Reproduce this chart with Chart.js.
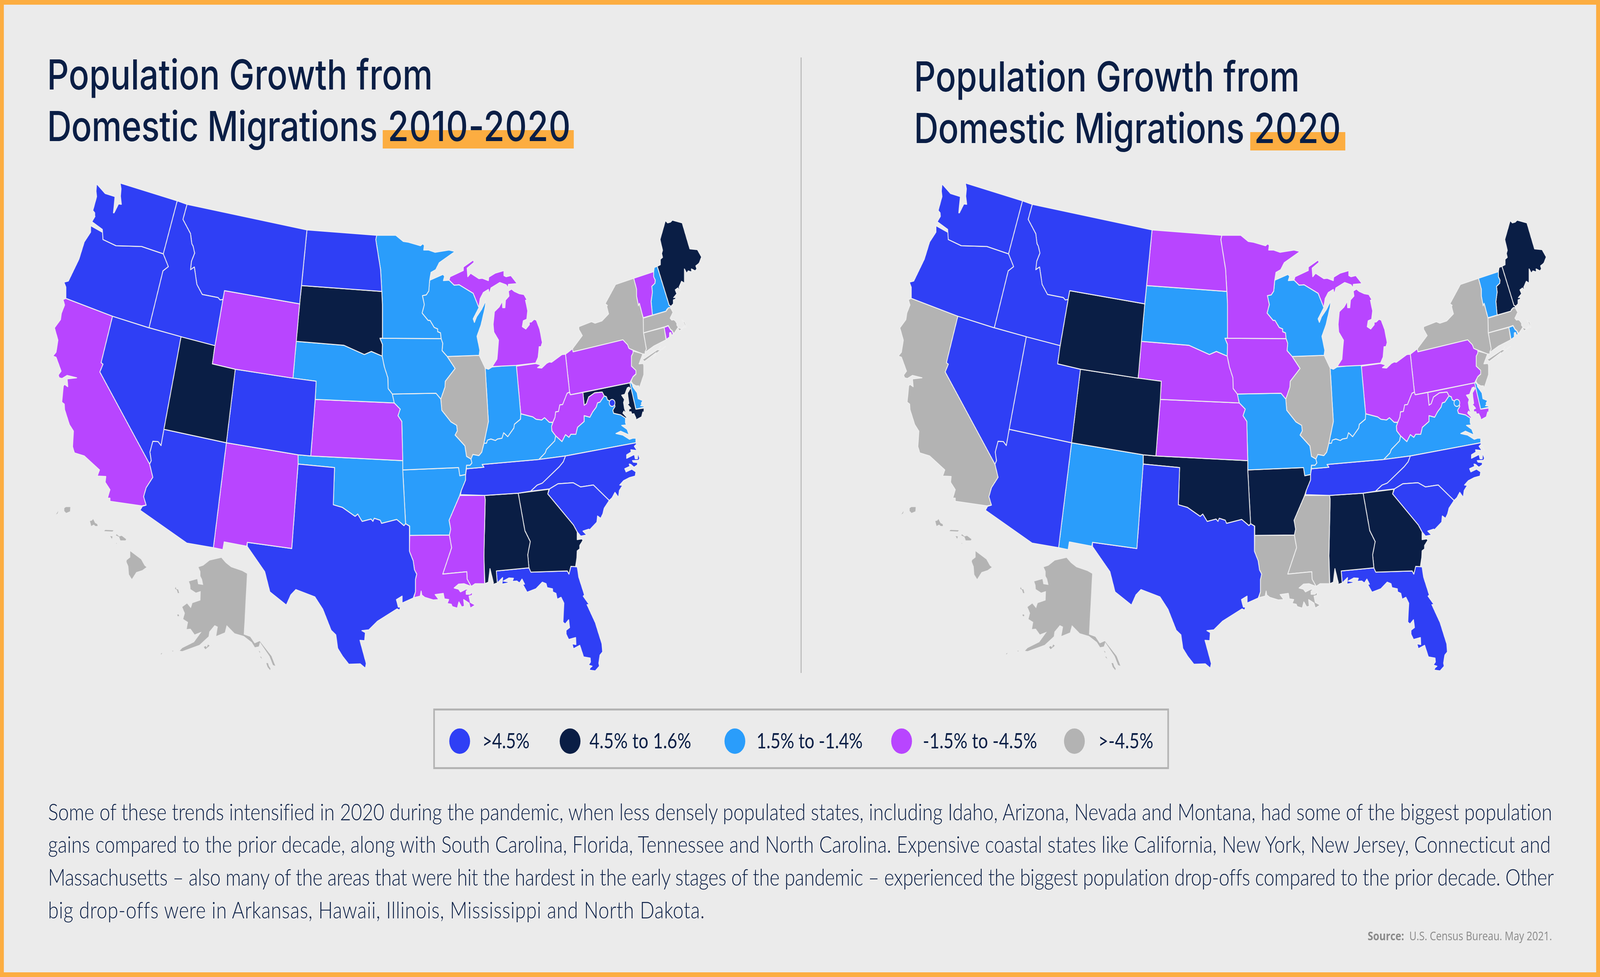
<!DOCTYPE html>
<html>
<head>
<meta charset="utf-8">
<title>Population Growth from Domestic Migrations</title>
<script src="https://cdn.jsdelivr.net/npm/chart.js@4"></script>
<style>
html,body{margin:0;padding:0;background:#ebebeb;overflow:hidden;}
#page{position:absolute;left:0;top:0;width:5000px;height:2500px;box-sizing:border-box;border:12px solid #fcad41;background:#ebebeb;overflow:hidden;transform-origin:0 0;}
#stage{position:absolute;left:-12px;top:-12px;width:5000px;height:2500px;}
canvas{position:absolute;top:0;}
.t{position:absolute;white-space:nowrap;line-height:1;color:#0a1e45;}
.hl{position:absolute;background:#fcad41;}
#divider{position:absolute;left:2502px;top:147px;width:3px;height:1575px;background:#b5b5b5;}
#legbox{position:absolute;left:1354px;top:1813px;width:2299px;height:155px;box-sizing:border-box;border:5px solid #b3b3b3;}
.dot{position:absolute;width:65px;height:65px;border-radius:50%;}
</style>
</head>
<body>
<div id="page"><div id="stage">
<div id="divider"></div>
<div id="legbox"></div>
<canvas id="map2010" width="2642" height="2500" style="left:0;width:2642px;height:2500px"></canvas>
<canvas id="map2020" width="2358" height="2500" style="left:2642px;width:2358px;height:2500px"></canvas>
</div></div>
<script>
// legend / groups
var groupLabels = [">4.5%", "4.5% to 1.6%", "1.5% to -1.4%", "-1.5% to -4.5%", ">-4.5%"];
var groupColors = ["#2f3ff5", "#0a1e45", "#2a9dfb", "#b845ff", "#b3b3b3"];

// state outlines
var WA = [[367,461],[547,507],[503,644],[435,625],[354,623],[313,607],[311,581],[278,561],[288,547],[287,538],[281,532],[293,496],[291,482],[293,463],[320,488],[351,496],[346,538],[348,538],[362,515],[371,516],[368,495],[370,476]];
var OR = [[274,571],[274,588],[254,613],[237,658],[204,714],[190,717],[196,730],[196,759],[343,805],[458,835],[502,688],[519,677],[503,644],[435,625],[354,623],[313,607],[313,589]];
var CA = [[196,759],[343,805],[307,925],[313,929],[303,949],[460,1187],[470,1221],[449,1248],[441,1271],[449,1293],[435,1295],[335,1283],[335,1275],[327,1275],[335,1253],[320,1234],[322,1219],[295,1218],[302,1202],[254,1166],[223,1158],[217,1142],[220,1102],[207,1085],[192,1046],[191,1032],[183,1027],[188,985],[192,981],[202,987],[200,967],[230,964],[200,958],[184,966],[175,964],[172,957],[181,947],[165,911],[155,908],[165,898],[171,867],[160,835],[179,814],[182,797],[192,776],[187,762]];
var NV = [[343,805],[458,835],[559,858],[505,1097],[496,1139],[487,1129],[470,1128],[461,1156],[465,1178],[460,1187],[303,949],[313,929],[307,925]];
var ID = [[547,507],[578,516],[565,555],[589,592],[593,618],[597,624],[602,642],[592,663],[589,685],[601,678],[609,723],[626,749],[676,757],[682,763],[691,762],[666,881],[559,858],[458,835],[502,688],[519,677],[503,644]];
var MT = [[578,516],[956,582],[933,773],[696,739],[691,762],[682,763],[676,757],[626,749],[609,723],[601,678],[589,685],[592,663],[602,642],[597,624],[593,618],[589,592],[565,555]];
var WY = [[696,739],[933,773],[912,965],[730,942],[658,928],[666,881]];
var UT = [[559,858],[666,881],[658,928],[730,942],[702,1132],[505,1097]];
var CO = [[730,942],[912,965],[985,973],[982,1020],[968,1166],[928,1163],[702,1132]];
var ND = [[956,582],[1176,596],[1173,607],[1188,684],[1192,741],[939,726]];
var SD = [[939,726],[1192,741],[1194,775],[1194,862],[1186,862],[1194,878],[1193,908],[1159,896],[1137,904],[1072,880],[922,870],[933,773]];
var NE = [[922,870],[1072,880],[1137,904],[1159,896],[1193,908],[1200,936],[1211,964],[1212,992],[1225,1006],[1231,1029],[982,1020],[985,973],[912,965]];
var KS = [[982,1020],[1231,1029],[1250,1045],[1243,1062],[1255,1077],[1258,1178],[968,1166]];
var MN = [[1176,596],[1236,596],[1260,612],[1276,614],[1314,623],[1321,618],[1326,622],[1324,634],[1339,634],[1360,640],[1404,634],[1423,638],[1373,667],[1362,685],[1347,692],[1343,712],[1340,740],[1332,750],[1320,752],[1326,775],[1319,797],[1338,816],[1344,816],[1357,834],[1368,838],[1368,845],[1377,848],[1379,863],[1186,862],[1194,862],[1194,775],[1192,741],[1188,684],[1173,607]];
var IA = [[1186,862],[1379,863],[1384,875],[1382,894],[1398,909],[1423,940],[1392,973],[1391,988],[1378,1019],[1363,1004],[1225,1006],[1212,992],[1211,964],[1200,936],[1193,908],[1194,878]];
var MO = [[1225,1006],[1363,1004],[1378,1019],[1381,1048],[1410,1078],[1428,1087],[1430,1101],[1423,1112],[1454,1140],[1459,1167],[1473,1174],[1476,1184],[1470,1190],[1459,1190],[1456,1214],[1438,1217],[1434,1196],[1258,1202],[1258,1178],[1255,1077],[1243,1062],[1250,1045],[1231,1029]];
var OK = [[928,1163],[968,1166],[1258,1178],[1258,1202],[1267,1341],[1262,1346],[1239,1330],[1191,1340],[1187,1332],[1168,1327],[1164,1335],[1158,1329],[1130,1335],[1116,1316],[1108,1322],[1068,1299],[1039,1292],[1043,1196],[928,1187]];
var NM = [[702,1132],[928,1163],[928,1187],[908,1405],[768,1389],[766,1399],[695,1388],[691,1408],[661,1403]];
var AZ = [[505,1097],[702,1132],[661,1403],[577,1391],[430,1306],[437,1296],[449,1293],[441,1271],[449,1248],[470,1221],[460,1187],[465,1178],[461,1156],[470,1128],[487,1129],[496,1139]];
var TX = [[928,1187],[1043,1196],[1039,1292],[1068,1299],[1108,1322],[1116,1316],[1130,1335],[1158,1329],[1164,1335],[1168,1327],[1187,1332],[1191,1340],[1239,1330],[1262,1346],[1267,1341],[1279,1347],[1279,1412],[1291,1437],[1295,1460],[1302,1471],[1298,1485],[1298,1517],[1291,1533],[1256,1546],[1256,1528],[1238,1537],[1244,1556],[1251,1556],[1248,1564],[1240,1561],[1178,1593],[1151,1615],[1129,1617],[1140,1622],[1138,1643],[1123,1642],[1143,1702],[1140,1714],[1124,1703],[1088,1704],[1068,1683],[1053,1663],[1047,1628],[1032,1616],[1006,1562],[981,1530],[921,1511],[905,1525],[891,1551],[839,1517],[823,1465],[768,1400],[768,1389],[908,1405]];
var AR = [[1258,1202],[1434,1196],[1438,1217],[1456,1214],[1456,1228],[1443,1254],[1437,1269],[1404,1332],[1409,1355],[1405,1370],[1280,1371],[1280,1347],[1267,1341]];
var LA = [[1280,1371],[1405,1370],[1412,1403],[1384,1471],[1460,1465],[1461,1484],[1474,1503],[1451,1496],[1434,1497],[1420,1507],[1434,1510],[1440,1517],[1457,1510],[1466,1511],[1458,1515],[1458,1523],[1470,1523],[1477,1517],[1477,1526],[1467,1528],[1471,1544],[1487,1551],[1471,1559],[1467,1546],[1450,1537],[1452,1554],[1444,1556],[1435,1543],[1430,1559],[1414,1555],[1411,1549],[1398,1547],[1403,1537],[1389,1535],[1386,1521],[1360,1524],[1372,1537],[1355,1538],[1327,1531],[1318,1525],[1316,1515],[1313,1528],[1293,1532],[1298,1517],[1298,1485],[1302,1471],[1295,1460],[1291,1437],[1279,1412]];
var MS = [[1439,1268],[1516,1268],[1518,1278],[1514,1424],[1516,1496],[1486,1496],[1474,1503],[1461,1484],[1460,1465],[1384,1471],[1412,1403],[1405,1370],[1409,1355],[1404,1332],[1437,1269]];
var AL = [[1516,1268],[1622,1262],[1643,1359],[1660,1387],[1652,1421],[1656,1455],[1553,1463],[1556,1494],[1539,1499],[1544,1494],[1533,1457],[1528,1492],[1517,1496],[1514,1424],[1518,1278]];
var GA = [[1622,1262],[1719,1252],[1715,1264],[1796,1344],[1808,1362],[1808,1382],[1823,1380],[1826,1384],[1816,1397],[1816,1406],[1808,1411],[1807,1429],[1803,1450],[1808,1452],[1788,1451],[1782,1471],[1777,1463],[1662,1466],[1656,1455],[1652,1421],[1660,1387],[1643,1359]];
var FL = [[1553,1463],[1656,1455],[1662,1466],[1777,1463],[1782,1471],[1788,1451],[1808,1452],[1813,1479],[1831,1525],[1827,1528],[1846,1550],[1839,1550],[1865,1596],[1876,1625],[1886,1651],[1888,1672],[1880,1680],[1876,1701],[1878,1709],[1865,1721],[1846,1719],[1849,1713],[1855,1709],[1843,1706],[1850,1698],[1849,1688],[1828,1685],[1816,1655],[1796,1664],[1792,1651],[1804,1653],[1803,1635],[1781,1640],[1773,1626],[1773,1616],[1784,1609],[1781,1589],[1770,1600],[1763,1595],[1766,1546],[1757,1531],[1745,1536],[1741,1521],[1731,1517],[1730,1509],[1713,1506],[1710,1496],[1698,1492],[1678,1509],[1650,1518],[1636,1497],[1642,1497],[1634,1484],[1626,1494],[1618,1489],[1603,1490],[1607,1482],[1593,1481],[1575,1489],[1590,1491],[1590,1494],[1571,1497],[1573,1480],[1556,1494]];
var TN = [[1459,1199],[1514,1195],[1508,1188],[1687,1175],[1771,1166],[1764,1181],[1751,1194],[1698,1236],[1682,1241],[1661,1257],[1622,1262],[1516,1268],[1440,1266],[1443,1254],[1456,1228],[1456,1215]];
var NC = [[1771,1166],[1993,1132],[2005,1152],[1993,1137],[1988,1141],[1997,1152],[1977,1150],[1978,1156],[1964,1163],[1964,1172],[1988,1162],[1991,1173],[1998,1173],[1999,1158],[2005,1172],[2002,1177],[1982,1178],[1985,1182],[1998,1183],[1998,1189],[1987,1195],[1977,1188],[1972,1187],[1974,1193],[1958,1199],[1962,1207],[1980,1200],[1993,1207],[1991,1218],[1973,1222],[1954,1230],[1942,1241],[1951,1242],[1941,1255],[1938,1273],[1927,1260],[1918,1274],[1909,1281],[1859,1241],[1819,1246],[1795,1235],[1747,1238],[1721,1251],[1661,1257],[1682,1241],[1698,1236],[1751,1194],[1764,1181]];
var SC = [[1721,1251],[1747,1238],[1795,1235],[1819,1246],[1859,1241],[1909,1281],[1893,1301],[1889,1315],[1882,1327],[1872,1321],[1870,1337],[1847,1357],[1845,1355],[1826,1360],[1838,1370],[1819,1373],[1808,1362],[1796,1344],[1715,1264]];
var WI = [[1343,712],[1385,697],[1390,702],[1386,713],[1404,712],[1420,725],[1436,724],[1480,746],[1498,783],[1480,812],[1484,821],[1491,806],[1506,788],[1520,765],[1518,781],[1505,827],[1492,857],[1501,893],[1499,906],[1398,909],[1382,894],[1384,875],[1379,863],[1377,848],[1368,845],[1368,838],[1357,834],[1344,816],[1338,816],[1319,797],[1326,775],[1320,752],[1332,750],[1340,740]];
var IL = [[1398,909],[1499,906],[1518,939],[1528,1077],[1514,1133],[1507,1156],[1498,1165],[1479,1162],[1473,1174],[1459,1167],[1454,1140],[1423,1112],[1430,1101],[1428,1087],[1410,1078],[1381,1048],[1378,1019],[1391,988],[1392,973],[1423,940]];
var IN = [[1518,939],[1528,942],[1540,936],[1616,930],[1630,1057],[1629,1071],[1610,1084],[1608,1094],[1589,1116],[1576,1106],[1571,1120],[1557,1122],[1550,1126],[1536,1122],[1525,1125],[1522,1133],[1514,1133],[1528,1077]];
var KY = [[1630,1057],[1668,1065],[1678,1071],[1696,1073],[1705,1067],[1720,1079],[1731,1080],[1727,1089],[1728,1101],[1740,1114],[1737,1127],[1711,1149],[1707,1158],[1687,1175],[1508,1188],[1514,1195],[1459,1199],[1459,1190],[1470,1190],[1476,1184],[1473,1174],[1479,1162],[1498,1165],[1507,1156],[1514,1133],[1522,1133],[1525,1125],[1536,1122],[1550,1126],[1557,1122],[1571,1120],[1576,1106],[1589,1116],[1608,1094],[1610,1084],[1629,1071]];
var MI_N = [[1404,712],[1407,703],[1449,687],[1449,678],[1480,660],[1483,666],[1461,681],[1463,703],[1472,694],[1498,708],[1509,707],[1528,713],[1529,704],[1549,694],[1577,687],[1577,700],[1584,703],[1599,700],[1619,721],[1591,723],[1590,732],[1584,724],[1564,718],[1536,732],[1531,748],[1528,736],[1512,744],[1502,760],[1498,783],[1480,746],[1436,724],[1420,725]];
var MI_S = [[1601,735],[1610,741],[1626,747],[1640,749],[1650,763],[1645,764],[1652,791],[1649,813],[1638,817],[1635,832],[1646,838],[1657,827],[1657,820],[1663,820],[1672,813],[1679,815],[1690,839],[1698,873],[1694,884],[1688,884],[1685,911],[1677,926],[1616,932],[1540,935],[1555,916],[1560,867],[1545,846],[1543,826],[1547,793],[1562,781],[1572,766],[1573,783],[1580,783],[1582,763],[1593,753],[1591,740]];
var OH = [[1616,934],[1677,927],[1694,931],[1683,938],[1696,939],[1711,927],[1720,923],[1727,924],[1760,904],[1771,903],[1784,1001],[1776,1004],[1762,1033],[1753,1034],[1749,1051],[1740,1052],[1738,1066],[1731,1079],[1720,1079],[1705,1067],[1696,1073],[1678,1071],[1668,1065],[1630,1057]];
var PA = [[1771,903],[1793,889],[1795,897],[1952,866],[1967,879],[1971,888],[1984,893],[1984,900],[1979,908],[1979,934],[1993,945],[1993,954],[1984,961],[1974,977],[1786,1008],[1784,1001]];
var NY = [[1795,897],[1793,889],[1824,855],[1813,839],[1813,832],[1853,819],[1864,823],[1886,817],[1907,799],[1901,780],[1903,777],[1896,773],[1929,723],[1986,707],[1995,735],[1995,753],[2001,778],[2004,772],[2016,810],[2017,848],[2026,890],[2022,897],[2022,903],[2013,902],[1970,888],[1966,878],[1952,867]];
var LI = [[2017,905],[2018,915],[2067,888],[2070,883],[2063,892],[2072,892],[2087,883],[2062,898],[2047,913],[2057,899],[2020,922],[2015,918]];
var VT = [[1986,707],[2049,690],[2049,703],[2054,712],[2053,720],[2043,728],[2045,743],[2041,767],[2045,802],[2016,809],[2004,772],[2001,778],[1995,753],[1995,735]];
var NH = [[2049,690],[2051,679],[2060,676],[2098,777],[2103,780],[2102,783],[2096,783],[2090,788],[2088,792],[2045,802],[2041,767],[2045,743],[2043,728],[2053,720],[2054,712],[2049,703]];
var ME = [[2060,676],[2070,672],[2070,658],[2077,653],[2074,643],[2077,635],[2069,607],[2086,558],[2093,564],[2102,562],[2108,557],[2139,564],[2163,631],[2187,633],[2200,652],[2193,667],[2190,670],[2182,675],[2185,683],[2180,688],[2168,683],[2169,691],[2158,688],[2153,694],[2146,683],[2146,720],[2137,715],[2129,730],[2133,740],[2125,732],[2117,737],[2122,747],[2112,757],[2118,756],[2118,761],[2111,763],[2111,773],[2104,779],[2098,777]];
var MA = [[2016,810],[2088,792],[2096,783],[2102,783],[2110,795],[2101,810],[2106,815],[2112,814],[2117,817],[2122,823],[2122,828],[2128,835],[2135,837],[2148,830],[2144,822],[2138,815],[2147,820],[2150,827],[2151,835],[2148,832],[2130,843],[2125,835],[2113,850],[2107,842],[2102,839],[2095,829],[2082,833],[2017,848]];
var RI = [[2082,834],[2095,830],[2102,840],[2107,843],[2111,852],[2106,854],[2103,847],[2099,848],[2099,859],[2089,865]];
var CT = [[2017,848],[2082,834],[2088,866],[2050,882],[2023,898],[2022,892],[2026,890]];
var NJ = [[1984,895],[2015,902],[2003,928],[2016,927],[2018,932],[2018,956],[2003,993],[2002,985],[1993,985],[1983,980],[1978,973],[1983,962],[1993,955],[1992,947],[1978,933],[1978,906],[1983,899]];
var DE = [[1976,975],[1982,982],[1983,987],[1997,1003],[2000,1018],[2015,1023],[2010,1030],[2013,1032],[2008,1036],[2018,1037],[2019,1040],[1993,1045],[1974,977]];
var MD = [[1826,1002],[1974,977],[1993,1045],[2019,1042],[2018,1057],[2015,1052],[2011,1065],[1993,1073],[1993,1068],[1987,1057],[1980,1058],[1978,1052],[1971,1052],[1971,1045],[1977,1043],[1967,1033],[1971,1030],[1968,1013],[1967,1003],[1975,992],[1972,988],[1966,990],[1958,1007],[1948,1009],[1953,1015],[1957,1020],[1954,1028],[1957,1043],[1963,1057],[1955,1050],[1952,1055],[1965,1067],[1960,1069],[1945,1060],[1923,1056],[1920,1048],[1927,1038],[1925,1030],[1910,1024],[1903,1021],[1900,1013],[1893,1011],[1887,1001],[1863,1003],[1844,1014],[1837,1031],[1830,1035]];
var VA = [[1687,1175],[1771,1166],[1993,1132],[1993,1120],[1983,1120],[1973,1123],[1952,1112],[1930,1108],[1945,1102],[1972,1112],[1965,1097],[1948,1087],[1963,1086],[1960,1080],[1960,1068],[1945,1060],[1923,1056],[1920,1048],[1927,1038],[1925,1030],[1910,1024],[1903,1021],[1900,1013],[1893,1011],[1880,1027],[1872,1029],[1868,1040],[1857,1052],[1848,1066],[1830,1062],[1830,1077],[1809,1092],[1804,1110],[1788,1110],[1782,1118],[1771,1111],[1760,1129],[1740,1114],[1737,1127],[1711,1149],[1707,1158]];
var WV = [[1786,1008],[1826,1002],[1830,1035],[1837,1031],[1844,1014],[1863,1003],[1887,1001],[1893,1011],[1880,1027],[1872,1029],[1868,1040],[1857,1052],[1848,1066],[1830,1062],[1830,1077],[1809,1092],[1804,1110],[1788,1110],[1782,1118],[1771,1111],[1760,1129],[1740,1114],[1728,1101],[1727,1089],[1731,1080],[1738,1066],[1740,1052],[1749,1051],[1753,1034],[1762,1033],[1776,1004],[1784,1001]];
var DC = [[1918,1029]];

var AK_MAIN = [[686,1429],[700,1442],[717,1453],[752,1463],[767,1470],[757,1627],[777,1633],[791,1650],[807,1644],[844,1683],[856,1708],[849,1706],[838,1683],[808,1647],[804,1658],[792,1660],[782,1647],[757,1631],[728,1624],[703,1603],[697,1622],[670,1631],[675,1607],[665,1603],[648,1620],[646,1632],[617,1654],[563,1670],[555,1669],[563,1662],[600,1647],[624,1620],[602,1627],[589,1612],[577,1613],[581,1595],[566,1587],[571,1572],[563,1556],[578,1547],[590,1559],[595,1546],[620,1539],[621,1515],[606,1519],[589,1510],[588,1499],[584,1490],[610,1484],[613,1497],[629,1499],[625,1484],[620,1476],[620,1464],[614,1453],[629,1449],[649,1436]];
var AK_KODIAK = [[631,1659],[637,1657],[640,1661],[644,1653],[649,1656],[636,1665],[633,1662]];
var AK_LAWRENCE = [[542,1504],[544,1510],[550,1511],[553,1520],[549,1520],[546,1512],[540,1509]];
var AK_NUNIVAK = [[547,1576],[551,1575],[553,1579],[549,1580]];
var AK_SE1 = [[804,1669],[808,1671],[808,1675]];
var AK_SE2 = [[808,1684],[812,1685],[814,1690]];
var AK_SE3 = [[828,1701],[833,1701],[836,1709],[841,1715],[840,1719],[832,1711]];
var AK_AL1 = [[496,1676],[500,1675],[496,1679]];
var AK_AL2 = [[531,1669],[535,1669],[533,1671]];
var HI_KAUAI = [[191,1301],[196,1298],[210,1298],[209,1309],[197,1313],[191,1308]];
var HI_NIIHAU = [[172,1308],[165,1317],[170,1314]];
var HI_OAHU = [[272,1334],[278,1333],[282,1329],[288,1339],[295,1342],[296,1347],[289,1347],[284,1343],[276,1347]];
var HI_MOLOKAI = [[320,1357],[346,1358],[343,1361],[317,1360]];
var HI_LANAI = [[336,1373],[343,1374],[341,1380]];
var HI_MAUI = [[356,1368],[364,1374],[372,1372],[386,1381],[384,1384],[368,1384],[364,1375],[354,1371]];
var HI_KAHO = [[355,1391],[357,1391],[355,1393]];
var HI_BIG = [[399,1412],[433,1433],[444,1449],[450,1453],[437,1461],[418,1466],[404,1484],[395,1472],[393,1451],[387,1439],[388,1435],[399,1428]];

var stateNames = ["WA","OR","CA","NV","ID","MT","WY","UT","CO","AZ","NM","TX","ND","SD","NE","KS","OK","MN","IA","MO","AR","LA","WI","IL","MI","IN","OH","KY","TN","MS","AL","GA","FL","SC","NC","VA","WV","PA","NY","VT","NH","ME","MA","RI","CT","NJ","DE","MD","DC","AK","HI"];
var outlines = [[WA],[OR],[CA],[NV],[ID],[MT],[WY],[UT],[CO],[AZ],[NM],[TX],[ND],[SD],[NE],[KS],[OK],[MN],[IA],[MO],[AR],[LA],[WI],[IL],[MI_N,MI_S],[IN],[OH],[KY],[TN],[MS],[AL],[GA],[FL],[SC],[NC],[VA],[WV],[PA],[NY,LI],[VT],[NH],[ME],[MA],[RI],[CT],[NJ],[DE],[MD],[DC],
	[AK_MAIN,AK_KODIAK,AK_LAWRENCE,AK_NUNIVAK,AK_SE1,AK_SE2,AK_SE3,AK_AL1,AK_AL2],
	[HI_KAUAI,HI_NIIHAU,HI_OAHU,HI_MOLOKAI,HI_LANAI,HI_MAUI,HI_KAHO,HI_BIG]];

// group index per state, same order as stateNames
var groups2010 = [0,0,3,0,0,0,3,1,0,0,3,0,0,1,2,3,2,2,2,2,2,3,2,4,3,2,3,2,0,3,1,1,0,0,0,2,3,3,4,3,2,1,4,3,4,4,2,1,0,4,4];
var groups2020 = [0,0,4,0,0,0,1,0,1,0,2,0,3,2,3,3,1,3,3,2,1,4,2,4,3,2,3,2,0,4,1,1,0,0,0,2,3,3,4,2,1,1,4,2,4,4,2,3,2,4,4];

var lineColor = "#efefef";
var noStroke = ["AK","HI"];

function buildDatasets(groups) {
	var sets = [];
	for (var i = 0; i < stateNames.length; i++) {
		for (var r = 0; r < outlines[i].length; r++) {
			var ring = outlines[i][r];
			var pts = ring.map(function(p) { return {x: p[0], y: p[1]}; });
			var color = groupColors[groups[i]];
			if (pts.length == 1) {
				// DC is only a dot
				sets.push({label: stateNames[i], data: pts, showLine: false, pointRadius: 9, pointBackgroundColor: color, pointBorderColor: lineColor, pointBorderWidth: 2.5, order: 0});
				continue;
			}
			pts.push({x: ring[0][0], y: ring[0][1]});
			sets.push({
				label: stateNames[i],
				data: pts,
				showLine: true,
				fill: "shape",
				tension: 0,
				backgroundColor: color,
				borderColor: lineColor,
				borderWidth: noStroke.indexOf(stateNames[i]) >= 0 ? 0 : 2.5,
				borderJoinStyle: "round",
				pointRadius: 0,
				order: 1
			});
		}
	}
	return sets;
}

function drawMap(id, groups, width) {
	new Chart(document.getElementById(id), {
		type: "scatter",
		data: {datasets: buildDatasets(groups)},
		options: {
			responsive: false,
			animation: false,
			devicePixelRatio: 1,
			layout: {padding: 0},
			plugins: {legend: {display: false}, tooltip: {enabled: false}},
			scales: {
				x: {type: "linear", min: 0, max: width, display: false},
				y: {type: "linear", min: 0, max: 2500, reverse: true, display: false}
			}
		}
	});
}
drawMap("map2010", groups2010, 2642);
drawMap("map2020", groups2020, 2358);

// text, placed by baseline. font has [family, weight, baseline ratio]
var fontTitle = ["Inter", 500, 0.864];
var fontPlain = ["Lato", 400, 0.887];
var fontLight = ["Lato", 300, 0.887];
var fontSource = ["'Open Sans'", 400, 0.888];
var stage = document.getElementById("stage");
function addText(font, size, txt, x, baseline, fitWidth) {
	var el = document.createElement("div");
	el.className = "t";
	el.style.fontFamily = font[0];
	el.style.fontWeight = font[1];
	el.style.fontSize = size + "px";
	el.innerHTML = txt;
	el.style.left = x + "px";
	el.style.top = (baseline - font[2] * size) + "px";
	stage.appendChild(el);
	if (fitWidth) {
		var n = el.textContent.length - 1;
		el.style.letterSpacing = ((fitWidth - el.getBoundingClientRect().width) / n) + "px";
	}
	return el;
}
function addHighlight(x, y, w, h) {
	var el = document.createElement("div");
	el.className = "hl";
	el.style.cssText = "left:" + x + "px;top:" + y + "px;width:" + w + "px;height:" + h + "px";
	stage.appendChild(el);
}

addHighlight(1196, 333, 597, 47);
addText(fontTitle, 106, "Population Growth from", 147, 230, 1205);
addText(fontTitle, 106, "Domestic Migrations", 147, 362, 1033);
addText(fontTitle, 106, "2010-2020", 1212, 362, 571);

addHighlight(3907, 338, 297, 47);
addText(fontTitle, 106, "Population Growth from", 2856, 235, 1205);
addText(fontTitle, 106, "Domestic Migrations", 2856, 367, 1033);
addText(fontTitle, 106, "2020", 3919, 367, 271);

var legendDotX = [1436, 1781, 2296, 2817, 3357];
var legendTextX = [1507, 1842, 2364, 2884, 3432];
var legendTextW = [148, 318, 332, 357, 172];
for (var i = 0; i < groupLabels.length; i++) {
	var d = document.createElement("div");
	d.className = "dot";
	d.style.cssText = "left:" + (legendDotX[i] - 32) + "px;top:1864px;background:" + groupColors[i];
	stage.appendChild(d);
	addText(fontPlain, 54, groupLabels[i], legendTextX[i], 1916, legendTextW[i]);
}

var bodyLines = [
	"Some of these trends intensified in 2020 during the pandemic, when less densely populated states, including Idaho, Arizona, Nevada and Montana, had some of the biggest population",
	"gains compared to the prior decade, along with South Carolina, Florida, Tennessee and North Carolina. Expensive coastal states like California, New York, New Jersey, Connecticut and",
	"Massachusetts – also many of the areas that were hit the hardest in the early stages of the pandemic – experienced the biggest population drop-offs compared to the prior decade. Other",
	"big drop-offs were in Arkansas, Hawaii, Illinois, Mississippi and North Dakota."
];
var bodyBase = [2100, 2183, 2267, 2351];
var bodyWidths = [4700, 4697, 4703, 2050];
// size the body so that the first line needs no extra letter spacing
var probe = addText(fontLight, 53, bodyLines[0], 150, 2100);
var bodySize = 53 * bodyWidths[0] / probe.getBoundingClientRect().width;
stage.removeChild(probe);
for (var j = 0; j < bodyLines.length; j++) {
	addText(fontLight, bodySize, bodyLines[j], 150, bodyBase[j], bodyWidths[j]);
}

var src = addText(fontSource, 31, "<b>Source:</b>&nbsp; U.S. Census Bureau. May 2021.", 4274, 2407, 576);
src.style.color = "#8a8a8a";

// the window can come up narrower than 5000 (screen is capped), so map the page onto it
document.getElementById("page").style.transform = "scale(" + (window.innerWidth / 5000) + "," + (window.innerHeight / 2500) + ")";
</script>
</body>
</html>
